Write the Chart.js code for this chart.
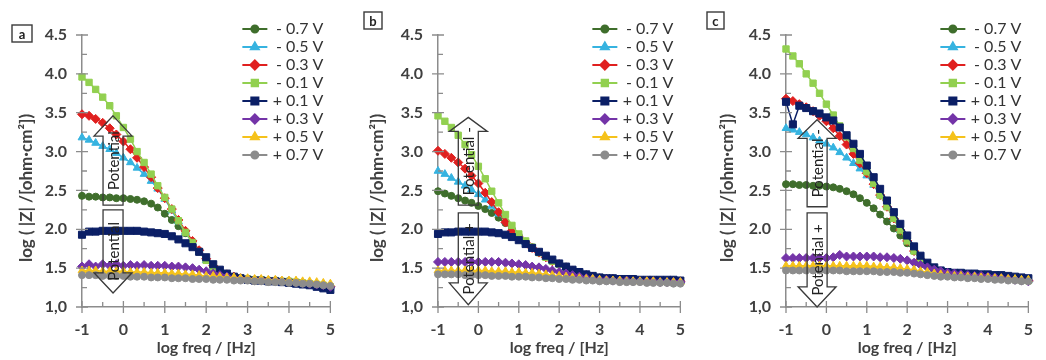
<!DOCTYPE html>
<html>
<head>
<meta charset="utf-8">
<script src="https://cdn.jsdelivr.net/npm/chart.js@4.4.0/dist/chart.umd.min.js"></script>
<style>
  body { margin: 0; background: #fff; width: 1046px; height: 360px; overflow: hidden; position: relative; }
  .panel { position: absolute; top: 0; height: 360px; }
</style>
</head>
<body>
<div class="panel" style="left:0;width:348px"><canvas id="chartA"></canvas></div>
<div class="panel" style="left:348px;width:350px"><canvas id="chartB"></canvas></div>
<div class="panel" style="left:698px;width:348px"><canvas id="chartC"></canvas></div>
<script>
// log freq / [Hz]
var freq = [-1.00, -0.83, -0.67, -0.50, -0.33, -0.17, 0.00, 0.17, 0.33, 0.50, 0.67, 0.83, 1.00, 1.17, 1.33, 1.50, 1.67, 1.83, 2.00, 2.17, 2.33, 2.50, 2.67, 2.83, 3.00, 3.17, 3.33, 3.50, 3.67, 3.83, 4.00, 4.17, 4.33, 4.50, 4.67, 4.83, 5.00];

var legendLabels = ["- 0.7 V", "- 0.5 V", "- 0.3 V", "- 0.1 V", "+ 0.1 V", "+ 0.3 V", "+ 0.5 V", "+ 0.7 V"];
var seriesColors = ["#3f6e2c", "#36b3e0", "#e0201f", "#92d050", "#0b1f66", "#7434a8", "#f5c21b", "#8c8c8c"];
var seriesPoints = ["circle", "triangle", "rectRot", "rect", "rect", "rectRot", "triangle", "circle"];
var seriesRadius = [3.5, 4.5, 4.5, 4.5, 5, 4.5, 4.5, 3.5];

var yMajor = [1.0, 1.5, 2.0, 2.5, 3.0, 3.5, 4.0, 4.5];
var yMinor = [1.25, 1.75, 2.25, 2.75, 3.25, 3.75, 4.25];
var xMajor = [-1, 0, 1, 2, 3, 4, 5];
var xMinor = [-0.5, 0.5, 1.5, 2.5, 3.5, 4.5];

// panel a  log(|Z|)
var aNeg07 = [2.43, 2.42, 2.42, 2.41, 2.41, 2.40, 2.40, 2.39, 2.38, 2.36, 2.33, 2.28, 2.20, 2.12, 2.04, 1.95, 1.84, 1.72, 1.61, 1.52, 1.45, 1.41, 1.38, 1.37, 1.36, 1.35, 1.35, 1.34, 1.34, 1.33, 1.33, 1.32, 1.31, 1.30, 1.29, 1.28, 1.26];
var aNeg05 = [3.18, 3.15, 3.11, 3.07, 3.03, 2.98, 2.92, 2.86, 2.79, 2.71, 2.62, 2.52, 2.39, 2.24, 2.10, 1.96, 1.83, 1.71, 1.60, 1.51, 1.45, 1.41, 1.38, 1.37, 1.36, 1.35, 1.35, 1.34, 1.34, 1.33, 1.33, 1.32, 1.31, 1.30, 1.29, 1.28, 1.26];
var aNeg03 = [3.48, 3.46, 3.42, 3.37, 3.30, 3.22, 3.13, 3.03, 2.92, 2.80, 2.67, 2.53, 2.40, 2.26, 2.12, 1.98, 1.85, 1.73, 1.62, 1.53, 1.46, 1.42, 1.39, 1.37, 1.36, 1.35, 1.35, 1.34, 1.34, 1.33, 1.33, 1.32, 1.31, 1.30, 1.29, 1.28, 1.26];
var aNeg01 = [3.96, 3.89, 3.80, 3.70, 3.59, 3.46, 3.31, 3.16, 3.00, 2.86, 2.71, 2.56, 2.41, 2.26, 2.11, 1.96, 1.83, 1.71, 1.60, 1.51, 1.45, 1.41, 1.38, 1.37, 1.36, 1.35, 1.35, 1.34, 1.34, 1.33, 1.33, 1.32, 1.31, 1.30, 1.29, 1.28, 1.26];
var aPos01 = [1.93, 1.97, 1.97, 1.98, 1.98, 1.98, 1.98, 1.98, 1.98, 1.97, 1.96, 1.95, 1.94, 1.91, 1.87, 1.82, 1.77, 1.71, 1.64, 1.55, 1.48, 1.43, 1.39, 1.37, 1.35, 1.34, 1.34, 1.33, 1.33, 1.32, 1.31, 1.30, 1.29, 1.28, 1.26, 1.24, 1.22];
var aPos03 = [1.52, 1.55, 1.52, 1.55, 1.53, 1.55, 1.53, 1.54, 1.53, 1.54, 1.53, 1.53, 1.53, 1.52, 1.52, 1.51, 1.50, 1.48, 1.46, 1.43, 1.41, 1.39, 1.37, 1.36, 1.36, 1.35, 1.35, 1.34, 1.34, 1.33, 1.33, 1.32, 1.31, 1.30, 1.29, 1.28, 1.26];
var aPos05 = [1.47, 1.47, 1.47, 1.46, 1.46, 1.46, 1.46, 1.45, 1.45, 1.45, 1.44, 1.44, 1.44, 1.43, 1.43, 1.42, 1.42, 1.41, 1.40, 1.40, 1.39, 1.38, 1.38, 1.37, 1.37, 1.36, 1.36, 1.35, 1.35, 1.34, 1.34, 1.34, 1.33, 1.33, 1.32, 1.31, 1.30];
var aPos07 = [1.41, 1.41, 1.41, 1.40, 1.40, 1.40, 1.40, 1.39, 1.39, 1.39, 1.38, 1.38, 1.38, 1.37, 1.37, 1.37, 1.36, 1.36, 1.36, 1.35, 1.35, 1.35, 1.34, 1.34, 1.34, 1.33, 1.33, 1.32, 1.32, 1.32, 1.31, 1.31, 1.30, 1.30, 1.29, 1.28, 1.27];

// panel b
var bNeg07 = [2.49, 2.46, 2.43, 2.40, 2.37, 2.34, 2.30, 2.26, 2.21, 2.15, 2.08, 2.00, 1.92, 1.84, 1.77, 1.70, 1.64, 1.59, 1.55, 1.51, 1.47, 1.44, 1.41, 1.39, 1.37, 1.36, 1.36, 1.35, 1.35, 1.35, 1.34, 1.34, 1.34, 1.33, 1.33, 1.33, 1.33];
var bNeg05 = [2.75, 2.71, 2.66, 2.61, 2.56, 2.51, 2.45, 2.38, 2.30, 2.20, 2.10, 2.00, 1.91, 1.83, 1.76, 1.70, 1.64, 1.59, 1.55, 1.51, 1.47, 1.44, 1.41, 1.39, 1.37, 1.36, 1.36, 1.35, 1.35, 1.35, 1.34, 1.34, 1.34, 1.33, 1.33, 1.33, 1.33];
var bNeg03 = [3.01, 2.97, 2.92, 2.86, 2.78, 2.69, 2.59, 2.47, 2.35, 2.22, 2.09, 1.98, 1.90, 1.83, 1.76, 1.70, 1.64, 1.59, 1.55, 1.51, 1.47, 1.44, 1.41, 1.39, 1.37, 1.36, 1.36, 1.35, 1.35, 1.35, 1.34, 1.34, 1.34, 1.33, 1.33, 1.33, 1.33];
var bNeg01 = [3.46, 3.39, 3.31, 3.21, 3.09, 2.96, 2.81, 2.65, 2.49, 2.34, 2.19, 2.05, 1.94, 1.85, 1.77, 1.70, 1.64, 1.59, 1.55, 1.51, 1.47, 1.44, 1.41, 1.39, 1.37, 1.36, 1.36, 1.35, 1.35, 1.35, 1.34, 1.34, 1.34, 1.33, 1.33, 1.33, 1.33];
var bPos01 = [1.94, 1.96, 1.96, 1.97, 1.97, 1.97, 1.97, 1.97, 1.96, 1.95, 1.93, 1.90, 1.86, 1.81, 1.76, 1.71, 1.66, 1.61, 1.56, 1.52, 1.48, 1.45, 1.42, 1.40, 1.38, 1.37, 1.37, 1.36, 1.36, 1.36, 1.35, 1.35, 1.35, 1.35, 1.35, 1.35, 1.34];
var bPos03 = [1.58, 1.58, 1.58, 1.58, 1.58, 1.58, 1.58, 1.58, 1.58, 1.58, 1.57, 1.56, 1.55, 1.54, 1.52, 1.51, 1.49, 1.47, 1.45, 1.43, 1.41, 1.39, 1.37, 1.36, 1.35, 1.35, 1.34, 1.34, 1.34, 1.33, 1.33, 1.33, 1.33, 1.32, 1.32, 1.32, 1.32];
var bPos05 = [1.47, 1.47, 1.47, 1.47, 1.47, 1.47, 1.47, 1.47, 1.46, 1.46, 1.46, 1.45, 1.45, 1.44, 1.44, 1.43, 1.42, 1.41, 1.40, 1.39, 1.38, 1.37, 1.36, 1.36, 1.35, 1.34, 1.34, 1.34, 1.33, 1.33, 1.33, 1.33, 1.33, 1.32, 1.32, 1.32, 1.32];
var bPos07 = [1.42, 1.42, 1.42, 1.42, 1.41, 1.41, 1.41, 1.41, 1.40, 1.40, 1.40, 1.39, 1.39, 1.39, 1.38, 1.38, 1.37, 1.37, 1.36, 1.36, 1.35, 1.35, 1.34, 1.34, 1.33, 1.33, 1.33, 1.32, 1.32, 1.32, 1.32, 1.31, 1.31, 1.31, 1.31, 1.30, 1.30];

// panel c
var cNeg07 = [2.58, 2.58, 2.57, 2.57, 2.56, 2.56, 2.55, 2.54, 2.52, 2.49, 2.45, 2.40, 2.34, 2.27, 2.19, 2.10, 2.01, 1.92, 1.82, 1.72, 1.62, 1.54, 1.48, 1.45, 1.43, 1.42, 1.42, 1.41, 1.41, 1.40, 1.40, 1.39, 1.38, 1.37, 1.36, 1.35, 1.34];
var cNeg05 = [3.30, 3.28, 3.25, 3.22, 3.18, 3.14, 3.10, 3.05, 2.99, 2.92, 2.85, 2.78, 2.69, 2.57, 2.44, 2.29, 2.14, 1.99, 1.85, 1.72, 1.61, 1.53, 1.48, 1.45, 1.43, 1.42, 1.42, 1.41, 1.41, 1.40, 1.40, 1.39, 1.38, 1.37, 1.36, 1.35, 1.34];
var cNeg03 = [3.68, 3.65, 3.61, 3.57, 3.52, 3.46, 3.39, 3.30, 3.20, 3.09, 2.97, 2.85, 2.72, 2.58, 2.44, 2.29, 2.14, 1.99, 1.85, 1.72, 1.61, 1.53, 1.48, 1.45, 1.43, 1.42, 1.42, 1.41, 1.41, 1.40, 1.40, 1.39, 1.38, 1.37, 1.36, 1.35, 1.34];
var cNeg01 = [4.32, 4.23, 4.13, 4.00, 3.88, 3.75, 3.61, 3.47, 3.33, 3.19, 3.04, 2.89, 2.74, 2.59, 2.44, 2.29, 2.14, 1.99, 1.85, 1.72, 1.61, 1.53, 1.48, 1.45, 1.43, 1.42, 1.42, 1.41, 1.41, 1.40, 1.40, 1.39, 1.38, 1.37, 1.36, 1.35, 1.34];
var cPos01 = [3.64, 3.35, 3.59, 3.56, 3.52, 3.49, 3.44, 3.40, 3.31, 3.21, 3.10, 2.97, 2.82, 2.67, 2.52, 2.37, 2.22, 2.07, 1.92, 1.78, 1.66, 1.57, 1.51, 1.47, 1.45, 1.44, 1.44, 1.43, 1.43, 1.42, 1.42, 1.41, 1.41, 1.40, 1.39, 1.38, 1.37];
var cPos03 = [1.63, 1.63, 1.63, 1.63, 1.63, 1.63, 1.63, 1.64, 1.67, 1.65, 1.65, 1.65, 1.65, 1.65, 1.64, 1.64, 1.63, 1.62, 1.60, 1.57, 1.54, 1.51, 1.48, 1.46, 1.44, 1.43, 1.42, 1.41, 1.40, 1.40, 1.39, 1.38, 1.37, 1.36, 1.35, 1.34, 1.33];
var cPos05 = [1.53, 1.53, 1.53, 1.53, 1.53, 1.53, 1.53, 1.53, 1.53, 1.53, 1.53, 1.53, 1.53, 1.52, 1.52, 1.51, 1.51, 1.50, 1.49, 1.48, 1.46, 1.45, 1.43, 1.42, 1.41, 1.40, 1.40, 1.39, 1.39, 1.38, 1.38, 1.37, 1.37, 1.36, 1.36, 1.35, 1.35];
var cPos07 = [1.47, 1.47, 1.47, 1.47, 1.47, 1.47, 1.47, 1.47, 1.47, 1.46, 1.46, 1.46, 1.46, 1.46, 1.45, 1.45, 1.45, 1.44, 1.44, 1.43, 1.42, 1.41, 1.40, 1.39, 1.39, 1.38, 1.38, 1.37, 1.37, 1.36, 1.36, 1.35, 1.35, 1.34, 1.34, 1.33, 1.33];

var TEXT = "#404040";
var AXIS = "#8c8c8c";

function makeDatasets(seriesList) {
    return seriesList.map(function (vals, i) {
        return {
            label: legendLabels[i],
            data: vals.map(function (v, k) { return { x: freq[k], y: v }; }),
            borderColor: seriesColors[i],
            backgroundColor: seriesColors[i],
            pointBackgroundColor: seriesColors[i],
            pointBorderColor: seriesColors[i],
            pointStyle: seriesPoints[i],
            pointRadius: seriesRadius[i],
            pointBorderWidth: 1,
            borderWidth: 1.5,
            tension: 0,
            clip: false,
            order: 8 - i,
        };
    });
}

function drawArrows(chart, o) {
    var ctx = chart.ctx, xs = chart.scales.x, ys = chart.scales.y;
    var cx = xs.getPixelForValue(o.arrowX);
    var hw = 19, sw = 10;
    var a = o.up.map(function (v) { return ys.getPixelForValue(v); });
    var d = o.down.map(function (v) { return ys.getPixelForValue(v); });
    ctx.save();
    ctx.strokeStyle = "#3a3a3a";
    ctx.lineWidth = 1.3;
    // up arrow
    ctx.beginPath();
    ctx.moveTo(cx, a[0]);
    ctx.lineTo(cx + hw, a[1]);
    ctx.lineTo(cx + sw, a[1]);
    ctx.lineTo(cx + sw, a[2]);
    ctx.lineTo(cx - sw, a[2]);
    ctx.lineTo(cx - sw, a[1]);
    ctx.lineTo(cx - hw, a[1]);
    ctx.closePath();
    ctx.stroke();
    // down arrow
    ctx.beginPath();
    ctx.moveTo(cx - sw, d[0]);
    ctx.lineTo(cx + sw, d[0]);
    ctx.lineTo(cx + sw, d[1]);
    ctx.lineTo(cx + hw, d[1]);
    ctx.lineTo(cx, d[2]);
    ctx.lineTo(cx - hw, d[1]);
    ctx.lineTo(cx - sw, d[1]);
    ctx.closePath();
    ctx.stroke();
    // labels
    ctx.fillStyle = "#222";
    ctx.font = "15px Lato";
    ctx.textAlign = "center";
    ctx.textBaseline = "middle";
    ctx.save();
    ctx.translate(cx + 1, (a[0] + a[2]) / 2);
    ctx.rotate(-Math.PI / 2);
    ctx.fillText(o.upText, 0, 0);
    ctx.restore();
    ctx.save();
    ctx.translate(cx + 1, (d[0] + d[2]) / 2);
    ctx.rotate(-Math.PI / 2);
    ctx.fillText(o.downText, 0, 0);
    ctx.restore();
    ctx.restore();
}

var decorPlugin = {
    id: "decor",
    afterDatasetsDraw: function (chart, args, o) {
        drawArrows(chart, o);
    },
    afterDraw: function (chart, args, o) {
        var ctx = chart.ctx, xs = chart.scales.x, ys = chart.scales.y, area = chart.chartArea;
        ctx.save();

        // axis ticks, majors cross the axis
        ctx.strokeStyle = AXIS;
        ctx.lineWidth = 1.3;
        ctx.beginPath();
        yMajor.forEach(function (v) {
            var p = ys.getPixelForValue(v);
            ctx.moveTo(area.left - 6, p); ctx.lineTo(area.left + 6, p);
        });
        yMinor.forEach(function (v) {
            var p = ys.getPixelForValue(v);
            ctx.moveTo(area.left, p); ctx.lineTo(area.left + 5, p);
        });
        xMajor.forEach(function (v) {
            var p = xs.getPixelForValue(v);
            ctx.moveTo(p, area.bottom - 6); ctx.lineTo(p, area.bottom + 6);
        });
        xMinor.forEach(function (v) {
            var p = xs.getPixelForValue(v);
            ctx.moveTo(p, area.bottom - 5); ctx.lineTo(p, area.bottom);
        });
        ctx.stroke();

        // axis titles
        ctx.fillStyle = TEXT;
        ctx.textAlign = "center";
        ctx.textBaseline = "middle";
        ctx.font = "bold 16px Lato";
        ctx.fillText("log freq / [Hz]", (area.left + area.right) / 2, 348);
        ctx.save();
        ctx.translate(o.yTitleX, 188);
        ctx.rotate(-Math.PI / 2);
        ctx.font = "bold 17px Lato";
        ctx.fillText("log ( |Z| /[ohm\u00b7cm\u00b2])", 0, 0);
        ctx.restore();

        // legend
        chart.data.datasets.forEach(function (ds, i) {
            var y = 29 + 18 * i;
            var x0 = area.right - 88, x1 = area.right - 63;
            ctx.strokeStyle = ds.borderColor;
            ctx.lineWidth = 2;
            ctx.beginPath();
            ctx.moveTo(x0, y); ctx.lineTo(x1, y);
            ctx.stroke();
            ctx.fillStyle = ds.borderColor;
            Chart.helpers.drawPoint(ctx, {
                pointStyle: ds.pointStyle, radius: ds.pointRadius, rotation: 0, borderWidth: 1
            }, (x0 + x1) / 2, y);
            ctx.fillStyle = "#333";
            ctx.font = "16px Lato";
            ctx.textAlign = "right";
            ctx.fillText(legendLabels[i], area.right - 7, y);
        });

        // panel letter
        var b = o.box;
        ctx.strokeStyle = "#3a3a3a";
        ctx.lineWidth = 1.4;
        ctx.strokeRect(b[0], b[1], b[2], b[3]);
        ctx.fillStyle = "#222";
        ctx.font = "bold 13px Lato";
        ctx.textAlign = "center";
        ctx.fillText(o.letter, b[0] + b[2] / 2, b[1] + b[3] / 2 + 1);

        ctx.restore();
    },
};

function makeChart(id, seriesList, yWidth, rightPad, decor) {
    var ctx = document.getElementById(id).getContext("2d");
    return new Chart(ctx, {
        type: "line",
        data: { datasets: makeDatasets(seriesList) },
        plugins: [decorPlugin],
        options: {
            responsive: true,
            maintainAspectRatio: false,
            animation: false,
            layout: { padding: { left: 0, right: rightPad, top: 35, bottom: 0 } },
            plugins: {
                legend: { display: false },
                tooltip: { enabled: false },
                decor: decor,
            },
            scales: {
                x: {
                    type: "linear",
                    min: -1,
                    max: 5,
                    grid: { display: false, drawTicks: false },
                    border: { color: AXIS, width: 1.5 },
                    ticks: {
                        stepSize: 1,
                        padding: 13,
                        color: TEXT,
                        font: { family: "Lato", size: 16, weight: "bold" },
                        maxRotation: 0,
                    },
                    afterFit: function (s) { s.height = 53; },
                },
                y: {
                    min: 1,
                    max: 4.5,
                    grid: { display: false, drawTicks: false },
                    border: { color: AXIS, width: 1.5 },
                    ticks: {
                        stepSize: 0.5,
                        padding: 15,
                        color: TEXT,
                        font: { family: "Lato", size: 16, weight: "bold" },
                        callback: function (v) { return v === 1 ? "1,0" : v.toFixed(1); },
                    },
                    afterFit: function (s) { s.width = yWidth; },
                },
            },
        },
    });
}

makeChart("chartA", [aNeg07, aNeg05, aNeg03, aNeg01, aPos01, aPos03, aPos05, aPos07], 82, 10, {
    letter: "a", box: [12, 25, 20, 17], yTitleX: 27,
    arrowX: -0.25, up: [3.46, 3.20, 2.31], down: [2.25, 1.44, 1.18],
    upText: "Potential", downText: "Potential",
});
makeChart("chartB", [bNeg07, bNeg05, bNeg03, bNeg01, bPos01, bPos03, bPos05, bPos07], 90, 5, {
    letter: "b", box: [16, 12, 18, 17], yTitleX: 30,
    arrowX: -0.25, up: [3.44, 3.26, 2.31], down: [2.21, 1.31, 1.03],
    upText: "Potential -", downText: "Potential +",
});
makeChart("chartC", [cNeg07, cNeg05, cNeg03, cNeg01, cPos01, cPos03, cPos05, cPos07], 88, 3, {
    letter: "c", box: [9, 12, 17, 17], yTitleX: 30,
    arrowX: -0.23, up: [3.41, 3.17, 2.29], down: [2.21, 1.26, 1.0],
    upText: "Potential -", downText: "Potential +",
});
</script>
</body>
</html>
